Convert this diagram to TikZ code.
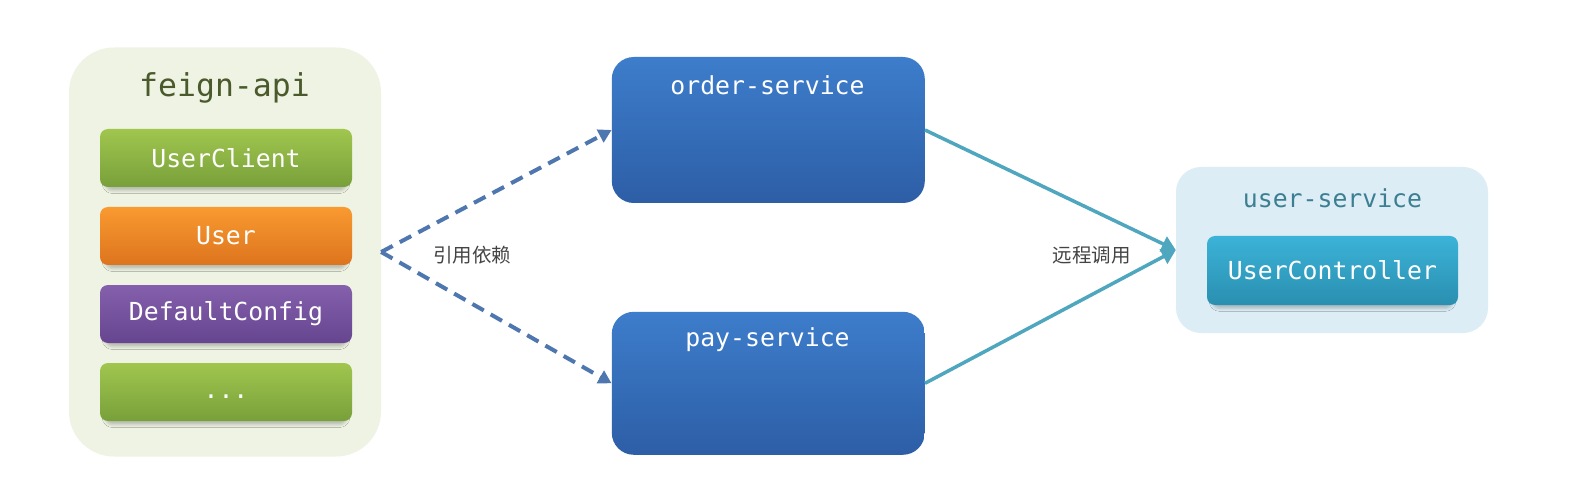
\documentclass[tikz,border=0pt]{standalone}
\usepackage{fontspec}
\setmonofont{DejaVu Sans Mono}
\newfontfamily\cjk{Noto Sans CJK SC}
\usetikzlibrary{arrows.meta,shadows.blur}
\definecolor{feignbg}{HTML}{EEF3E3}
\definecolor{feigntxt}{HTML}{4B5A2C}
\definecolor{gtop}{HTML}{A0C64E}
\definecolor{gbot}{HTML}{78A03A}
\definecolor{otop}{HTML}{F99A30}
\definecolor{obot}{HTML}{DD741E}
\definecolor{ptop}{HTML}{8560AD}
\definecolor{pbot}{HTML}{66458F}
\definecolor{btop}{HTML}{3D7DCB}
\definecolor{bbot}{HTML}{2D5EA6}
\definecolor{dashcol}{HTML}{4E77B0}
\definecolor{tealline}{HTML}{4EA7BE}
\definecolor{usbg}{HTML}{DCEDF5}
\definecolor{ustxt}{HTML}{3C7F92}
\definecolor{uctop}{HTML}{3BB3D8}
\definecolor{ucbot}{HTML}{2A8FB0}
\definecolor{lbl}{HTML}{444444}
\tikzset{
  mono/.style={font=\ttfamily\fontsize{24.8}{28}\selectfont},
  item/.style={mono, text=white, minimum width=252pt, minimum height=58pt, inner sep=0pt,
     rounded corners=8pt, blur shadow={shadow xshift=0pt, shadow yshift=-5pt, shadow opacity=22, shadow blur radius=3pt, shadow scale=0.96}},
  svc/.style={rounded corners=22pt, minimum width=313pt, inner sep=0pt,
     top color=btop, bottom color=bbot},
  svctitle/.style={mono, text=white},
  deparrow/.style={draw=dashcol, line width=4pt, dash pattern=on 13pt off 8pt,
     -{Triangle[length=13pt,width=14pt]}},
  callarrow/.style={draw=tealline, line width=3.5pt, -{Triangle[length=14pt,width=16pt]}},
  cjklabel/.style={font=\cjk\fontsize{19.5}{22}\selectfont, text=lbl},
}
\begin{document}
\begin{tikzpicture}[x=1pt,y=-1pt]
\fill[white] (0,0) rectangle (1580,497);
% feign-api container
\node[fill=feignbg, rounded corners=45pt, minimum width=312pt, minimum height=409pt, inner sep=0pt] (feign) at (225,252) {};
\node[font=\ttfamily\fontsize{31.5}{34}\selectfont, text=feigntxt] (feigntitle) at (224.5,88) {feign-api};
\node[item, top color=gtop, bottom color=gbot] (uclient) at (226,158) {UserClient};
\node[item, top color=otop, bottom color=obot] (user) at (226,236) {User};
\node[item, top color=ptop, bottom color=pbot] (dconf) at (226,314) {DefaultConfig};
\node[item, top color=gtop, bottom color=gbot] (more) at (226,392) {\vphantom{Ag}...};
% services
\node[svc, minimum height=146pt] (order) at (768.3,130) {};
\node[svctitle] (ordertitle) at (767.5,85) {order-service};
\node[svc, minimum height=143pt] (pay) at (768.3,383.3) {};
\node[svctitle] (paytitle) at (767.5,340) {pay-service};
% user-service
\node[fill=usbg, rounded corners=25pt, minimum width=312pt, minimum height=166pt, inner sep=0pt] (us) at (1332,250) {};
\node[mono, text=ustxt] (ustitle) at (1332.5,198) {user-service};
\node[item, top color=uctop, bottom color=ucbot, minimum width=251pt, minimum height=69pt] (uctrl) at (1332.5,270.5) {UserController};
% connectors
\draw[deparrow] (feign.east) -- (order.west);
\draw[deparrow] (feign.east) -- (pay.west);
\draw[callarrow] (order.east) -- (us.west);
\draw[callarrow] (pay.east) -- (us.west);
% labels
\node[cjklabel] (deplabel) at (472,255) {引用依赖};
\node[cjklabel] (calllabel) at (1091.5,255) {远程调用};
\pgfresetboundingbox
\useasboundingbox (0,0) rectangle (1580,497);
\end{tikzpicture}
\end{document}
